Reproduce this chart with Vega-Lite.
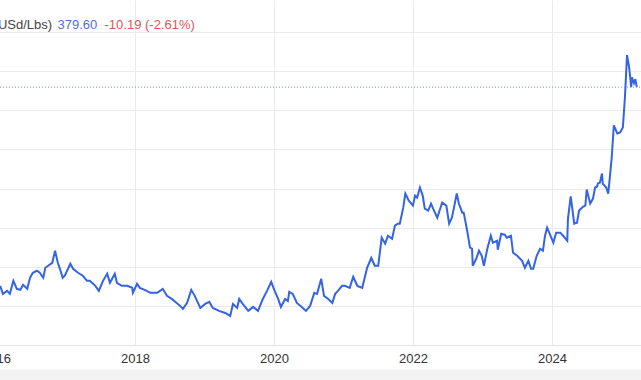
{
  "$schema": "https://vega.github.io/schema/vega-lite/v6.json",
  "width": 646,
  "height": 345,
  "autosize": "none",
  "padding": {"left": -5, "top": 0, "right": 0, "bottom": 35},
  "background": "white",
  "config": {"view": {"stroke": null}, "font": "Liberation Sans"},
  "data": {"values": [
    {"t": 2016.06, "v": 125.6}, {"t": 2016.10, "v": 115.4}, {"t": 2016.16, "v": 119.2}, {"t": 2016.20, "v": 115.4},
    {"t": 2016.25, "v": 132.0}, {"t": 2016.30, "v": 121.8}, {"t": 2016.35, "v": 120.5}, {"t": 2016.39, "v": 126.9},
    {"t": 2016.45, "v": 121.8}, {"t": 2016.49, "v": 135.9}, {"t": 2016.53, "v": 142.3}, {"t": 2016.59, "v": 144.9},
    {"t": 2016.63, "v": 142.3}, {"t": 2016.68, "v": 135.9}, {"t": 2016.71, "v": 148.7}, {"t": 2016.75, "v": 151.3},
    {"t": 2016.81, "v": 155.1}, {"t": 2016.85, "v": 170.5}, {"t": 2016.89, "v": 155.1}, {"t": 2016.92, "v": 147.4},
    {"t": 2016.96, "v": 135.9}, {"t": 2016.99, "v": 138.5}, {"t": 2017.07, "v": 153.8}, {"t": 2017.11, "v": 147.4},
    {"t": 2017.18, "v": 142.3}, {"t": 2017.25, "v": 138.5}, {"t": 2017.31, "v": 132.0}, {"t": 2017.35, "v": 132.0},
    {"t": 2017.43, "v": 125.6}, {"t": 2017.48, "v": 119.2}, {"t": 2017.54, "v": 132.0}, {"t": 2017.60, "v": 141.0},
    {"t": 2017.64, "v": 129.5}, {"t": 2017.71, "v": 141.0}, {"t": 2017.74, "v": 129.5}, {"t": 2017.81, "v": 125.6},
    {"t": 2017.89, "v": 125.6}, {"t": 2017.96, "v": 123.1}, {"t": 2017.97, "v": 116.7}, {"t": 2018.03, "v": 128.2},
    {"t": 2018.07, "v": 123.1}, {"t": 2018.14, "v": 120.5}, {"t": 2018.22, "v": 116.7}, {"t": 2018.32, "v": 116.7},
    {"t": 2018.36, "v": 119.2}, {"t": 2018.40, "v": 121.8}, {"t": 2018.46, "v": 112.8}, {"t": 2018.53, "v": 108.9},
    {"t": 2018.60, "v": 103.8}, {"t": 2018.65, "v": 100.0}, {"t": 2018.69, "v": 96.2}, {"t": 2018.75, "v": 103.8},
    {"t": 2018.81, "v": 120.5}, {"t": 2018.86, "v": 112.8}, {"t": 2018.94, "v": 97.4}, {"t": 2019.01, "v": 102.5},
    {"t": 2019.07, "v": 105.1}, {"t": 2019.12, "v": 97.4}, {"t": 2019.21, "v": 93.6}, {"t": 2019.30, "v": 91.0},
    {"t": 2019.37, "v": 87.2}, {"t": 2019.41, "v": 102.5}, {"t": 2019.47, "v": 97.4}, {"t": 2019.50, "v": 108.9},
    {"t": 2019.55, "v": 102.5}, {"t": 2019.63, "v": 93.6}, {"t": 2019.70, "v": 98.7}, {"t": 2019.77, "v": 93.6},
    {"t": 2019.84, "v": 108.9}, {"t": 2019.90, "v": 119.2}, {"t": 2019.96, "v": 130.8}, {"t": 2020.01, "v": 119.2},
    {"t": 2020.06, "v": 108.9}, {"t": 2020.10, "v": 98.7}, {"t": 2020.16, "v": 108.9}, {"t": 2020.20, "v": 106.4},
    {"t": 2020.22, "v": 117.9}, {"t": 2020.27, "v": 115.4}, {"t": 2020.33, "v": 103.8}, {"t": 2020.40, "v": 98.7},
    {"t": 2020.46, "v": 93.6}, {"t": 2020.52, "v": 100.0}, {"t": 2020.58, "v": 116.7}, {"t": 2020.62, "v": 115.4},
    {"t": 2020.68, "v": 134.6}, {"t": 2020.72, "v": 112.8}, {"t": 2020.78, "v": 108.9}, {"t": 2020.84, "v": 103.8},
    {"t": 2020.88, "v": 115.4}, {"t": 2020.92, "v": 119.2}, {"t": 2020.98, "v": 125.6}, {"t": 2021.02, "v": 125.6},
    {"t": 2021.09, "v": 123.1}, {"t": 2021.14, "v": 137.2}, {"t": 2021.20, "v": 125.6}, {"t": 2021.27, "v": 123.1},
    {"t": 2021.34, "v": 148.7}, {"t": 2021.40, "v": 161.5}, {"t": 2021.45, "v": 151.3}, {"t": 2021.50, "v": 151.3},
    {"t": 2021.55, "v": 187.2}, {"t": 2021.60, "v": 179.5}, {"t": 2021.64, "v": 189.7}, {"t": 2021.70, "v": 185.9},
    {"t": 2021.74, "v": 202.6}, {"t": 2021.78, "v": 205.1}, {"t": 2021.81, "v": 205.1}, {"t": 2021.86, "v": 225.6},
    {"t": 2021.89, "v": 243.6}, {"t": 2021.94, "v": 234.6}, {"t": 2022.00, "v": 228.2}, {"t": 2022.03, "v": 241.0},
    {"t": 2022.06, "v": 238.5}, {"t": 2022.10, "v": 251.3}, {"t": 2022.14, "v": 241.0}, {"t": 2022.17, "v": 224.4},
    {"t": 2022.22, "v": 221.8}, {"t": 2022.26, "v": 230.8}, {"t": 2022.29, "v": 224.4}, {"t": 2022.35, "v": 212.8},
    {"t": 2022.42, "v": 232.1}, {"t": 2022.48, "v": 228.2}, {"t": 2022.52, "v": 205.1}, {"t": 2022.56, "v": 212.8},
    {"t": 2022.59, "v": 225.6}, {"t": 2022.63, "v": 243.6}, {"t": 2022.66, "v": 230.8}, {"t": 2022.71, "v": 219.2},
    {"t": 2022.73, "v": 219.2}, {"t": 2022.78, "v": 196.1}, {"t": 2022.82, "v": 174.4}, {"t": 2022.85, "v": 173.1},
    {"t": 2022.86, "v": 151.3}, {"t": 2022.91, "v": 160.2}, {"t": 2022.95, "v": 170.5}, {"t": 2022.99, "v": 164.1},
    {"t": 2023.02, "v": 151.3}, {"t": 2023.07, "v": 173.1}, {"t": 2023.12, "v": 189.7}, {"t": 2023.15, "v": 180.8},
    {"t": 2023.21, "v": 183.3}, {"t": 2023.22, "v": 171.8}, {"t": 2023.27, "v": 192.3}, {"t": 2023.32, "v": 191.0},
    {"t": 2023.35, "v": 187.2}, {"t": 2023.41, "v": 189.7}, {"t": 2023.44, "v": 167.9}, {"t": 2023.50, "v": 164.1},
    {"t": 2023.57, "v": 157.6}, {"t": 2023.61, "v": 148.7}, {"t": 2023.66, "v": 157.6}, {"t": 2023.70, "v": 147.4},
    {"t": 2023.73, "v": 147.4}, {"t": 2023.78, "v": 164.1}, {"t": 2023.83, "v": 173.1}, {"t": 2023.87, "v": 170.5},
    {"t": 2023.90, "v": 189.7}, {"t": 2023.93, "v": 200.0}, {"t": 2023.96, "v": 193.6}, {"t": 2024.02, "v": 180.8},
    {"t": 2024.06, "v": 193.6}, {"t": 2024.12, "v": 193.6}, {"t": 2024.16, "v": 189.7}, {"t": 2024.22, "v": 183.3},
    {"t": 2024.23, "v": 211.5}, {"t": 2024.27, "v": 240.0}, {"t": 2024.32, "v": 205.1}, {"t": 2024.36, "v": 206.4},
    {"t": 2024.39, "v": 221.8}, {"t": 2024.45, "v": 226.9}, {"t": 2024.48, "v": 228.2}, {"t": 2024.50, "v": 248.7},
    {"t": 2024.55, "v": 230.8}, {"t": 2024.59, "v": 237.2}, {"t": 2024.62, "v": 251.3}, {"t": 2024.65, "v": 252.6},
    {"t": 2024.66, "v": 256.4}, {"t": 2024.69, "v": 257.7}, {"t": 2024.72, "v": 269.2}, {"t": 2024.73, "v": 256.4},
    {"t": 2024.78, "v": 251.3}, {"t": 2024.81, "v": 243.6}, {"t": 2024.86, "v": 289.8}, {"t": 2024.89, "v": 330.8},
    {"t": 2024.94, "v": 320.5}, {"t": 2024.98, "v": 321.8}, {"t": 2025.02, "v": 328.2}, {"t": 2025.05, "v": 366.7},
    {"t": 2025.08, "v": 420.5}, {"t": 2025.11, "v": 405.1}, {"t": 2025.14, "v": 379.5}, {"t": 2025.15, "v": 392.3},
    {"t": 2025.18, "v": 384.6}, {"t": 2025.20, "v": 389.8}, {"t": 2025.22, "v": 379.6}
  ]},
  "layer": [
    {
      "mark": {"type": "line", "color": "#3464e4", "strokeWidth": 2, "clip": true},
      "encoding": {
        "x": {
          "field": "t", "type": "quantitative",
          "scale": {"domain": [2015.986, 2025.281], "nice": false, "zero": false},
          "axis": {
            "values": [2016, 2018, 2020, 2022, 2024], "format": "d",
            "grid": true, "gridColor": "#ebebeb", "ticks": false, "tickSize": 0,
            "domainColor": "#e3e3e3", "labelFont": "Liberation Sans", "labelFontSize": 13,
            "labelColor": "#333333", "labelPadding": 7, "labelFlush": false, "labelOverlap": false,
            "title": "-10.19 (-2.61%)", "titleColor": "#e05555", "titleFont": "Liberation Sans",
            "titleFontSize": 13, "titleFontWeight": "normal", "titleX": 109, "titleY": -317,
            "titleAlign": "left", "titleBaseline": "alphabetic", "titleAngle": 0
          }
        },
        "y": {
          "field": "v", "type": "quantitative",
          "scale": {"domain": [50, 491.03], "nice": false, "zero": false},
          "axis": {
            "orient": "right", "values": [50, 100, 150, 200, 250, 300, 350, 400, 450],
            "grid": true, "gridColor": "#ebebeb", "labels": false, "ticks": false, "domain": false,
            "title": "379.60", "titleColor": "#4f6fdc", "titleFont": "Liberation Sans",
            "titleFontSize": 13, "titleFontWeight": "normal", "titleX": -584, "titleY": 28,
            "titleAlign": "left", "titleBaseline": "alphabetic", "titleAngle": 0
          }
        }
      }
    },
    {
      "data": {"values": [{"last": 379.6}]},
      "mark": {"type": "rule", "color": "#6f8ee8", "strokeDash": [1, 2], "strokeWidth": 1},
      "encoding": {
        "x": {"datum": 2016.058, "type": "quantitative",
          "axis": {"orient": "bottom", "offset": 29.5, "domainColor": "#f3f3f3", "domainWidth": 11,
            "labels": false, "ticks": false, "grid": false, "title": null}},
        "x2": {"datum": 2025.281},
        "y": {
          "field": "last", "type": "quantitative",
          "axis": {
            "orient": "left", "grid": false, "labels": false, "ticks": false, "domain": false,
            "title": "USd/Lbs)", "titleColor": "#444444", "titleFont": "Liberation Sans",
            "titleFontSize": 13, "titleFontWeight": "normal", "titleX": 2.4, "titleY": 28,
            "titleAlign": "left", "titleBaseline": "alphabetic", "titleAngle": 0
          }
        }
      }
    }
  ],
  "resolve": {"axis": {"x": "independent", "y": "independent"}}
}
